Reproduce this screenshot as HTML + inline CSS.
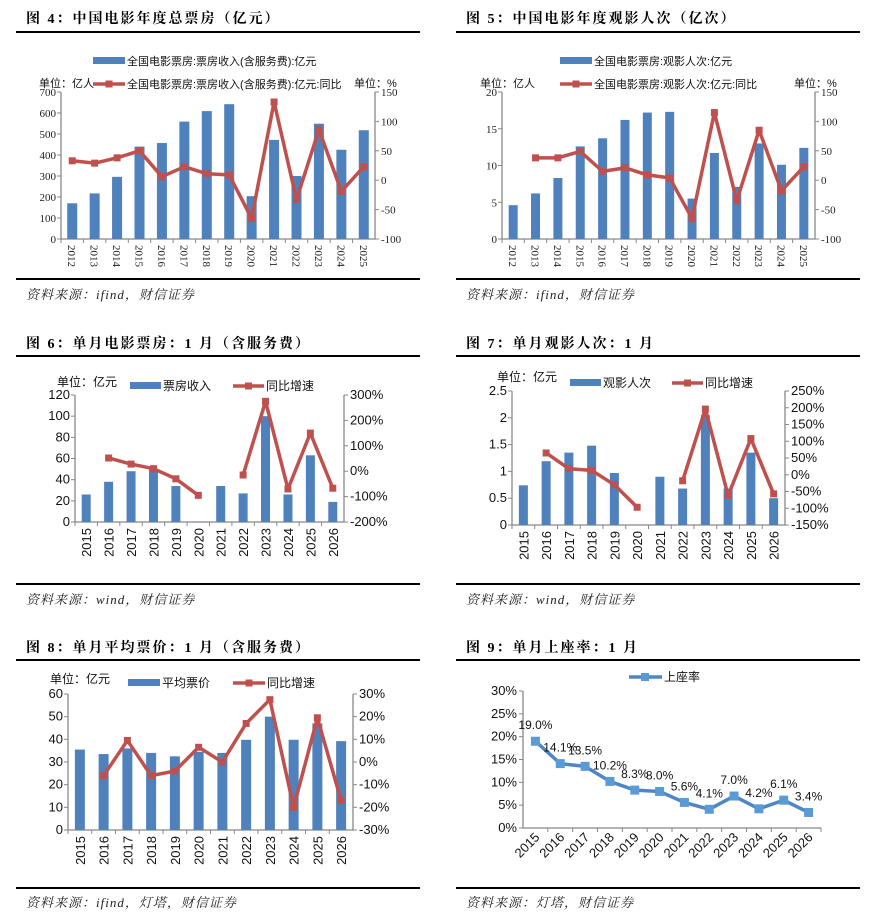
<!DOCTYPE html>
<html><head><meta charset="utf-8">
<style>
html,body{margin:0;padding:0;background:#fff;}
svg{display:block;}
.ttl{font-family:"Liberation Serif","Noto Serif CJK SC",serif;font-weight:bold;font-size:14px;letter-spacing:2px;fill:#000;}
.src{font-family:"Liberation Serif","Noto Serif CJK SC",serif;font-style:italic;font-size:13px;fill:#222;letter-spacing:1px;}
.ser{font-family:"Liberation Serif","Noto Serif CJK SC",serif;font-size:11px;fill:#222;}
.sans{font-family:"Liberation Sans","Noto Sans CJK SC",sans-serif;font-size:13px;fill:#111;}
.leg{font-family:"Liberation Sans","Noto Sans CJK SC",sans-serif;font-size:12px;fill:#111;}
.legs{font-family:"Liberation Sans","Noto Sans CJK SC",sans-serif;font-size:11px;fill:#111;}
</style></head>
<body>
<svg id="root" width="871" height="919" viewBox="0 0 871 919" xmlns="http://www.w3.org/2000/svg">
<g>
<text class="ttl" x="26" y="23">图 4：中国电影年度总票房（亿元）</text>
<rect x="16" y="31" width="404" height="2" fill="#000"/>
<rect x="16" y="278" width="404" height="2" fill="#000"/>
<text class="src" x="26" y="299">资料来源：ifind，财信证券</text>
</g>
<g>
<text class="ttl" x="466" y="23">图 5：中国电影年度观影人次（亿次）</text>
<rect x="456" y="31" width="404" height="2" fill="#000"/>
<rect x="456" y="278" width="404" height="2" fill="#000"/>
<text class="src" x="466" y="299">资料来源：ifind，财信证券</text>
</g>
<g>
<text class="ttl" x="26" y="348">图 6：单月电影票房：1 月（含服务费）</text>
<rect x="16" y="355" width="404" height="2" fill="#000"/>
<rect x="16" y="583" width="404" height="2" fill="#000"/>
<text class="src" x="26" y="604">资料来源：wind，财信证券</text>
</g>
<g>
<text class="ttl" x="466" y="348">图 7：单月观影人次：1 月</text>
<rect x="456" y="355" width="404" height="2" fill="#000"/>
<rect x="456" y="583" width="404" height="2" fill="#000"/>
<text class="src" x="466" y="604">资料来源：wind，财信证券</text>
</g>
<g>
<text class="ttl" x="26" y="652">图 8：单月平均票价：1 月（含服务费）</text>
<rect x="16" y="659" width="404" height="2" fill="#000"/>
<rect x="16" y="887" width="404" height="2" fill="#000"/>
<text class="src" x="26" y="907">资料来源：ifind，灯塔，财信证券</text>
</g>
<g>
<text class="ttl" x="466" y="652">图 9：单月上座率：1 月</text>
<rect x="456" y="659" width="404" height="2" fill="#000"/>
<rect x="456" y="887" width="404" height="2" fill="#000"/>
<text class="src" x="466" y="907">资料来源：灯塔，财信证券</text>
</g>
</svg>
<script>
// ---- data ----
const yearsA = ['2012','2013','2014','2015','2016','2017','2018','2019','2020','2021','2022','2023','2024','2025'];
const boxOfficeAnnual = [170,217,296,440,457,559,609,642,204,472,300,549,425,518];
const boxOfficeAnnualYoY = [33,29,38,50,6,23,11,9,-65,133,-33,86,-19,23];
const leftTicks4 = [0,100,200,300,400,500,600,700];
const rightTicks4 = [-100,-50,0,50,100,150];

const admissionsAnnual = [4.6,6.2,8.3,12.6,13.7,16.2,17.2,17.3,5.5,11.7,7.1,13.0,10.1,12.4];
const admissionsAnnualYoY = [null,38,38,49,15,21,9,4,-65,115,-35,85,-18,23];
const leftTicks5 = [0,5,10,15,20];
const rightTicks5 = [-100,-50,0,50,100,150];

const yearsB = ['2015','2016','2017','2018','2019','2020','2021','2022','2023','2024','2025','2026'];
const janBoxOffice = [26,38,48,50,34,0,34,27,100,26,63,19];
const janBoxOfficeYoY = [null,52,28,10,-30,-95,null,-15,275,-70,150,-67];
const leftTicks6 = [0,20,40,60,80,100,120];
const rightTicks6 = [-200,-100,0,100,200,300];

const janAdmissions = [0.74,1.19,1.35,1.48,0.97,0,0.9,0.68,2.05,0.68,1.35,0.5];
const janAdmissionsYoY = [null,65,18,13,-30,-97,null,-18,196,-62,108,-57];
const leftTicks7 = [0,0.5,1,1.5,2,2.5];
const rightTicks7 = [-150,-100,-50,0,50,100,150,200,250];

const janAvgPrice = [35.5,33.5,36,34,32.5,34.5,34,39.8,50,39.8,47,39.2];
const janAvgPriceYoY = [null,-6,9.5,-6,-4,6.5,0,17,27.5,-20,19.5,-17];
const leftTicks8 = [0,10,20,30,40,50,60];
const rightTicks8 = [-30,-20,-10,0,10,20,30];

const occupancy = [19.0,14.1,13.5,10.2,8.3,8.0,5.6,4.1,7.0,4.2,6.1,3.4];
const occupancyLabels = ['19.0%','14.1%','13.5%','10.2%','8.3%','8.0%','5.6%','4.1%','7.0%','4.2%','6.1%','3.4%'];
const ticks9 = [0,5,10,15,20,25,30];

// ---- helpers ----
const NS='http://www.w3.org/2000/svg';
const root=document.getElementById('root');
function mk(tag,attrs,parent){const e=document.createElementNS(NS,tag);for(const k in attrs)e.setAttribute(k,attrs[k]);(parent||root).appendChild(e);return e;}
const BLUE='#4f81bd', RED='#c0504d';

function dual(c, cats, bars, line, lt, rt){
  const g=mk('g',{});
  
  
  const lmin=lt[0],lmax=lt[lt.length-1],rmin=rt[0],rmax=rt[rt.length-1];
  const yL=v=>c.b-(v-lmin)/(lmax-lmin)*(c.b-c.t);
  const yR=v=>c.b-(v-rmin)/(rmax-rmin)*(c.b-c.t);
  const step=(c.r-c.l)/cats.length;
  const xC=i=>c.l+step*(i+0.5);
  const cls=c.serif?'ser':'sans';
  const lcls=c.serif?'legs':'leg';
  const ax=mk('path',{d:`M${c.l},${c.t}V${c.b}H${c.r}V${c.t}`,fill:'none',stroke:'#888','stroke-width':1.3},g);
  
  
  lt.forEach(v=>{const y=yL(v);
    mk('line',{x1:c.l-4,x2:c.l,y1:y,y2:y,stroke:'#888'},g);
    const t=mk('text',{x:c.l-5,y:y+4,'text-anchor':'end',class:cls},g);t.textContent=c.lfmt?c.lfmt(v):v;
    
    });
  rt.forEach(v=>{const y=yR(v);
    mk('line',{x1:c.r,x2:c.r+4,y1:y,y2:y,stroke:'#888'},g);
    const t=mk('text',{x:c.r+6,y:y+4,class:cls},g);t.textContent=c.rfmt?c.rfmt(v):v;
    
    });
  cats.forEach((cat,i)=>{const x=c.l+step*i;
    mk('line',{x1:x,x2:x,y1:c.b,y2:c.b+4,stroke:'#888'},g);
    const t=mk('text',{x:0,y:0,class:cls,transform:`translate(${xC(i)-4},${c.b+6}) rotate(90)`,'text-anchor':c.serif?'start':'end'},g);
    if(!c.serif)t.setAttribute('transform',`translate(${xC(i)+5},${c.b+6}) rotate(-90)`);
    t.textContent=cat;
    
    });
  bars.forEach((v,i)=>{if(!v)return;
    const r=mk('rect',{x:xC(i)-c.bw/2,y:yL(v),width:c.bw,height:c.b-yL(v),fill:BLUE},g);
    
    });
  let d='',pen=false;
  line.forEach((v,i)=>{if(v===null){pen=false;return;}d+=(pen?'L':'M')+xC(i)+','+yR(v);pen=true;});
  const p=mk('path',{d:d,fill:'none',stroke:RED,'stroke-width':3.5,'stroke-linejoin':'round'},g);
  
  
  line.forEach((v,i)=>{if(v===null)return;
    const m=mk('rect',{x:xC(i)-3.5,y:yR(v)-3.5,width:7,height:7,fill:RED},g);
    
    });
  const L=c.leg;
  const bs=mk('rect',{x:L.bx,y:L.by-4,width:L.bw,height:7,fill:BLUE},g);
  
  
  const bt=mk('text',{x:L.bx+L.bw+2,y:L.by+4,class:lcls},g);bt.textContent=L.bt;
  
  
  const ls=mk('line',{x1:L.lx,x2:L.lx+L.bw,y1:L.ly,y2:L.ly,stroke:RED,'stroke-width':3.5},g);
  
  
  mk('rect',{x:L.lx+L.bw/2-3.5,y:L.ly-3.5,width:7,height:7,fill:RED},g);
  const lt2=mk('text',{x:L.lx+L.bw+2,y:L.ly+4,class:lcls},g);lt2.textContent=L.lt;
  
  
  const u1=mk('text',{x:L.ux,y:L.uy,class:lcls},g);u1.textContent=L.ut;
  
  
  if(L.u2t){const u2=mk('text',{x:L.u2x,y:L.uy,class:lcls},g);u2.textContent=L.u2t;
    
    }
}
const pct=v=>v+'%';

dual({name:'fig4-chart',l:61,r:375,t:92,b:239,bw:10,serif:true,
  leg:{bx:93,by:61,bw:32,bt:'全国电影票房:票房收入(含服务费):亿元',lx:93,ly:84,lt:'全国电影票房:票房收入(含服务费):亿元:同比',ux:39,uy:87,ut:'单位：亿人',u2x:354,u2t:'单位：%'}},
  yearsA,boxOfficeAnnual,boxOfficeAnnualYoY,leftTicks4,rightTicks4);
dual({name:'fig5-chart',l:502,r:815,t:92,b:239,bw:9,serif:true,
  leg:{bx:560,by:61,bw:32,bt:'全国电影票房:观影人次:亿元',lx:560,ly:84,lt:'全国电影票房:观影人次:亿元:同比',ux:480,uy:87,ut:'单位：亿人',u2x:794,u2t:'单位：%'}},
  yearsA,admissionsAnnual,admissionsAnnualYoY,leftTicks5,rightTicks5);
dual({name:'fig6-chart',l:75,r:344,t:395,b:522,bw:9,serif:false,rfmt:pct,
  leg:{bx:130,by:386,bw:31,bt:'票房收入',lx:233,ly:386,lt:'同比增速',ux:57,uy:386,ut:'单位：亿元'}},
  yearsB,janBoxOffice,janBoxOfficeYoY,leftTicks6,rightTicks6);
dual({name:'fig7-chart',l:512,r:785,t:391,b:525,bw:9,serif:false,rfmt:pct,
  leg:{bx:570,by:383,bw:31,bt:'观影人次',lx:672,ly:383,lt:'同比增速',ux:497,uy:381,ut:'单位：亿元'}},
  yearsB,janAdmissions,janAdmissionsYoY,leftTicks7,rightTicks7);
dual({name:'fig8-chart',l:68,r:353,t:694,b:830,bw:10,serif:false,rfmt:pct,
  leg:{bx:128,by:683,bw:32,bt:'平均票价',lx:233,ly:683,lt:'同比增速',ux:50,uy:683,ut:'单位：亿元'}},
  yearsB,janAvgPrice,janAvgPriceYoY,leftTicks8,rightTicks8);

(function(){
  const c={l:523,r:821,t:691,b:828};
  const g=mk('g',{});
  
  
  const y=v=>c.b-(v-ticks9[0])/(ticks9[ticks9.length-1]-ticks9[0])*(c.b-c.t);
  const step=(c.r-c.l)/yearsB.length;
  const xC=i=>c.l+step*(i+0.5);
  const ax=mk('path',{d:`M${c.l},${c.t}V${c.b}H${c.r}`,fill:'none',stroke:'#888','stroke-width':1.3},g);
  
  
  ticks9.forEach(v=>{mk('line',{x1:c.l-4,x2:c.l,y1:y(v),y2:y(v),stroke:'#888'},g);
    const t=mk('text',{x:c.l-6,y:y(v)+4,'text-anchor':'end',class:'sans'},g);t.textContent=v+'%';
    
    });
  yearsB.forEach((cat,i)=>{mk('line',{x1:c.l+step*(i+1),x2:c.l+step*(i+1),y1:c.b,y2:c.b+4,stroke:'#888'},g);
    const t=mk('text',{x:0,y:0,class:'sans','text-anchor':'end',transform:`translate(${xC(i)+5},${c.b+10}) rotate(-45)`},g);t.textContent=cat;
    
    });
  const p=mk('path',{d:occupancy.map((v,i)=>(i?'L':'M')+xC(i)+','+y(v)).join(''),fill:'none',stroke:'#4f86c6','stroke-width':3.5,'stroke-linejoin':'round'},g);
  
  
  occupancy.forEach((v,i)=>{const m=mk('rect',{x:xC(i)-4.5,y:y(v)-4.5,width:9,height:9,fill:'#5b9bd5'},g);
    
    
    const t=mk('text',{x:xC(i),y:y(v)-12,'text-anchor':'middle',class:'sans',style:'font-size:12px'},g);t.textContent=occupancyLabels[i];
    
    });
  const ls=mk('line',{x1:629,x2:662,y1:677,y2:677,stroke:'#4f86c6','stroke-width':3.5},g);
  
  
  mk('rect',{x:641,y:673,width:8,height:8,fill:'#5b9bd5'},g);
  const lt=mk('text',{x:664,y:681,class:'leg'},g);lt.textContent='上座率';
  
  
})();
</script>
</body></html>
